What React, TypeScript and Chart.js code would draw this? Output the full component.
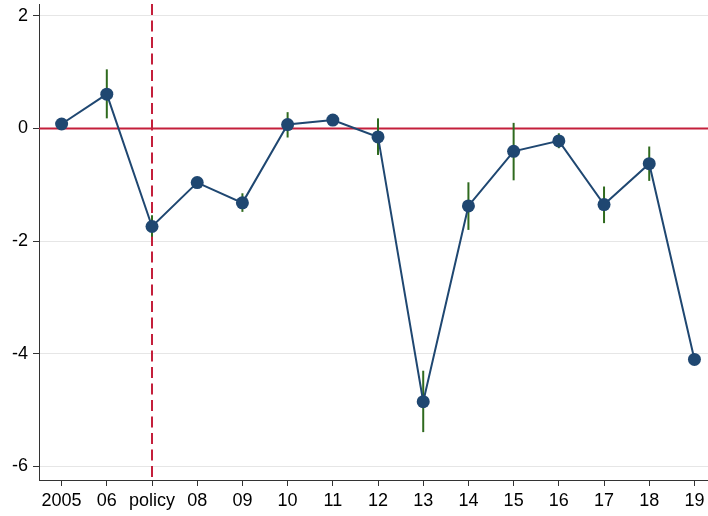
import React, { useEffect, useRef } from "react";
import { Chart, registerables } from "chart.js";

Chart.register(...registerables);

const categories = ["2005", "06", "policy", "08", "09", "10", "11", "12", "13", "14", "15", "16", "17", "18", "19"];
const estimates = [0.08, 0.61, -1.74, -0.96, -1.32, 0.07, 0.15, -0.15, -4.85, -1.375, -0.405, -0.22, -1.35, -0.625, -4.1];
const ciLow = [0.06, 0.18, -1.92, -0.98, -1.48, -0.16, 0.13, -0.47, -5.39, -1.8, -0.92, -0.35, -1.68, -0.93, -4.15];
const ciHigh = [0.1, 1.05, -1.54, -0.94, -1.15, 0.29, 0.17, 0.18, -4.3, -0.955, 0.1, -0.085, -1.03, -0.32, -4.05];
const yTicks = [-6, -4, -2, 0, 2];
const policyIndex = 2;
const refValue = 0;

const NAVY = "#1f4771";
const GREEN = "#2f6a1e";
const RED = "#c41f3b";

const refPlugin = {
  id: "refAndCi",
  beforeDatasetsDraw(chart: any) {
    const { ctx, chartArea, scales } = chart;
    const xs = scales.x;
    const ys = scales.y;
    ctx.save();
    ctx.beginPath();
    ctx.rect(chartArea.left, chartArea.top, chartArea.right - chartArea.left, chartArea.bottom - chartArea.top);
    ctx.clip();
    const y0 = ys.getPixelForValue(refValue);
    ctx.strokeStyle = RED;
    ctx.lineWidth = 1.8;
    ctx.beginPath();
    ctx.moveTo(chartArea.left, y0);
    ctx.lineTo(chartArea.right, y0);
    ctx.stroke();
    const xp = Math.round(xs.getPixelForValue(policyIndex));
    ctx.lineWidth = 2;
    ctx.setLineDash([11, 5.5]);
    ctx.beginPath();
    ctx.moveTo(xp, chartArea.top);
    ctx.lineTo(xp, chartArea.bottom);
    ctx.stroke();
    ctx.setLineDash([]);
    ctx.strokeStyle = GREEN;
    ctx.lineWidth = 2;
    for (let i = 0; i < categories.length; i++) {
      const x = xs.getPixelForValue(i);
      ctx.beginPath();
      ctx.moveTo(x, ys.getPixelForValue(ciLow[i]));
      ctx.lineTo(x, ys.getPixelForValue(ciHigh[i]));
      ctx.stroke();
    }
    ctx.restore();
  },
};

export default function App() {
  const ref = useRef<HTMLCanvasElement | null>(null);
  useEffect(() => {
    if (!ref.current) return;
    Chart.defaults.font.family = "'Liberation Sans', Arial, Helvetica, sans-serif";
    const chart = new Chart(ref.current, {
      type: "line",
      data: {
        datasets: [
          {
            data: estimates.map((v, i) => ({ x: i, y: v })),
            borderColor: NAVY,
            borderWidth: 2,
            backgroundColor: NAVY,
            pointBackgroundColor: NAVY,
            pointBorderWidth: 0,
            pointRadius: 6.5,
            tension: 0,
            clip: false,
          },
        ],
      },
      options: {
        animation: false,
        responsive: false,
        devicePixelRatio: 1,
        layout: { autoPadding: false, padding: { top: 4, right: 0, left: 0, bottom: 0 } },
        plugins: { legend: { display: false }, tooltip: { enabled: false } },
        scales: {
          x: {
            type: "linear",
            min: -0.5,
            max: 14.3,
            afterBuildTicks: (s: any) => {
              s.ticks = categories.map((_, i) => ({ value: i }));
            },
            afterFit: (s: any) => {
              s.height = 36;
              s.paddingLeft = 0;
              s.paddingRight = 0;
            },
            ticks: {
              autoSkip: false,
              maxRotation: 0,
              color: "#000",
              font: { size: 18 },
              padding: 4,
              callback: (v: any) => categories[v] ?? "",
            },
            grid: { display: true, drawOnChartArea: false, drawTicks: true, tickLength: 6, tickColor: "#333", lineWidth: 1 },
            border: { display: true, color: "#333", width: 1 },
          },
          y: {
            type: "linear",
            min: -6.24,
            max: 2.21,
            afterBuildTicks: (s: any) => {
              s.ticks = yTicks.map((v) => ({ value: v }));
            },
            afterFit: (s: any) => {
              s.width = 39;
              s.paddingTop = 0;
              s.paddingBottom = 0;
            },
            ticks: {
              color: "#000",
              font: { size: 18 },
              padding: 5,
              callback: (v: any) => String(v),
            },
            grid: {
              color: (c: any) => (c.tick && c.tick.value === 0 ? "rgba(0,0,0,0)" : "#e6e6e6"),
              tickColor: "#333",
              tickLength: 6,
              lineWidth: 1,
            },
            border: { display: true, color: "#333", width: 1 },
          },
        },
      },
      plugins: [refPlugin],
    });
    return () => chart.destroy();
  }, []);
  return (
    <div style={{ position: "fixed", left: 0, top: 0, width: 708, height: 516, background: "#fff" }}>
      <canvas ref={ref} width={708} height={516} style={{ width: 708, height: 516 }} />
    </div>
  );
}
